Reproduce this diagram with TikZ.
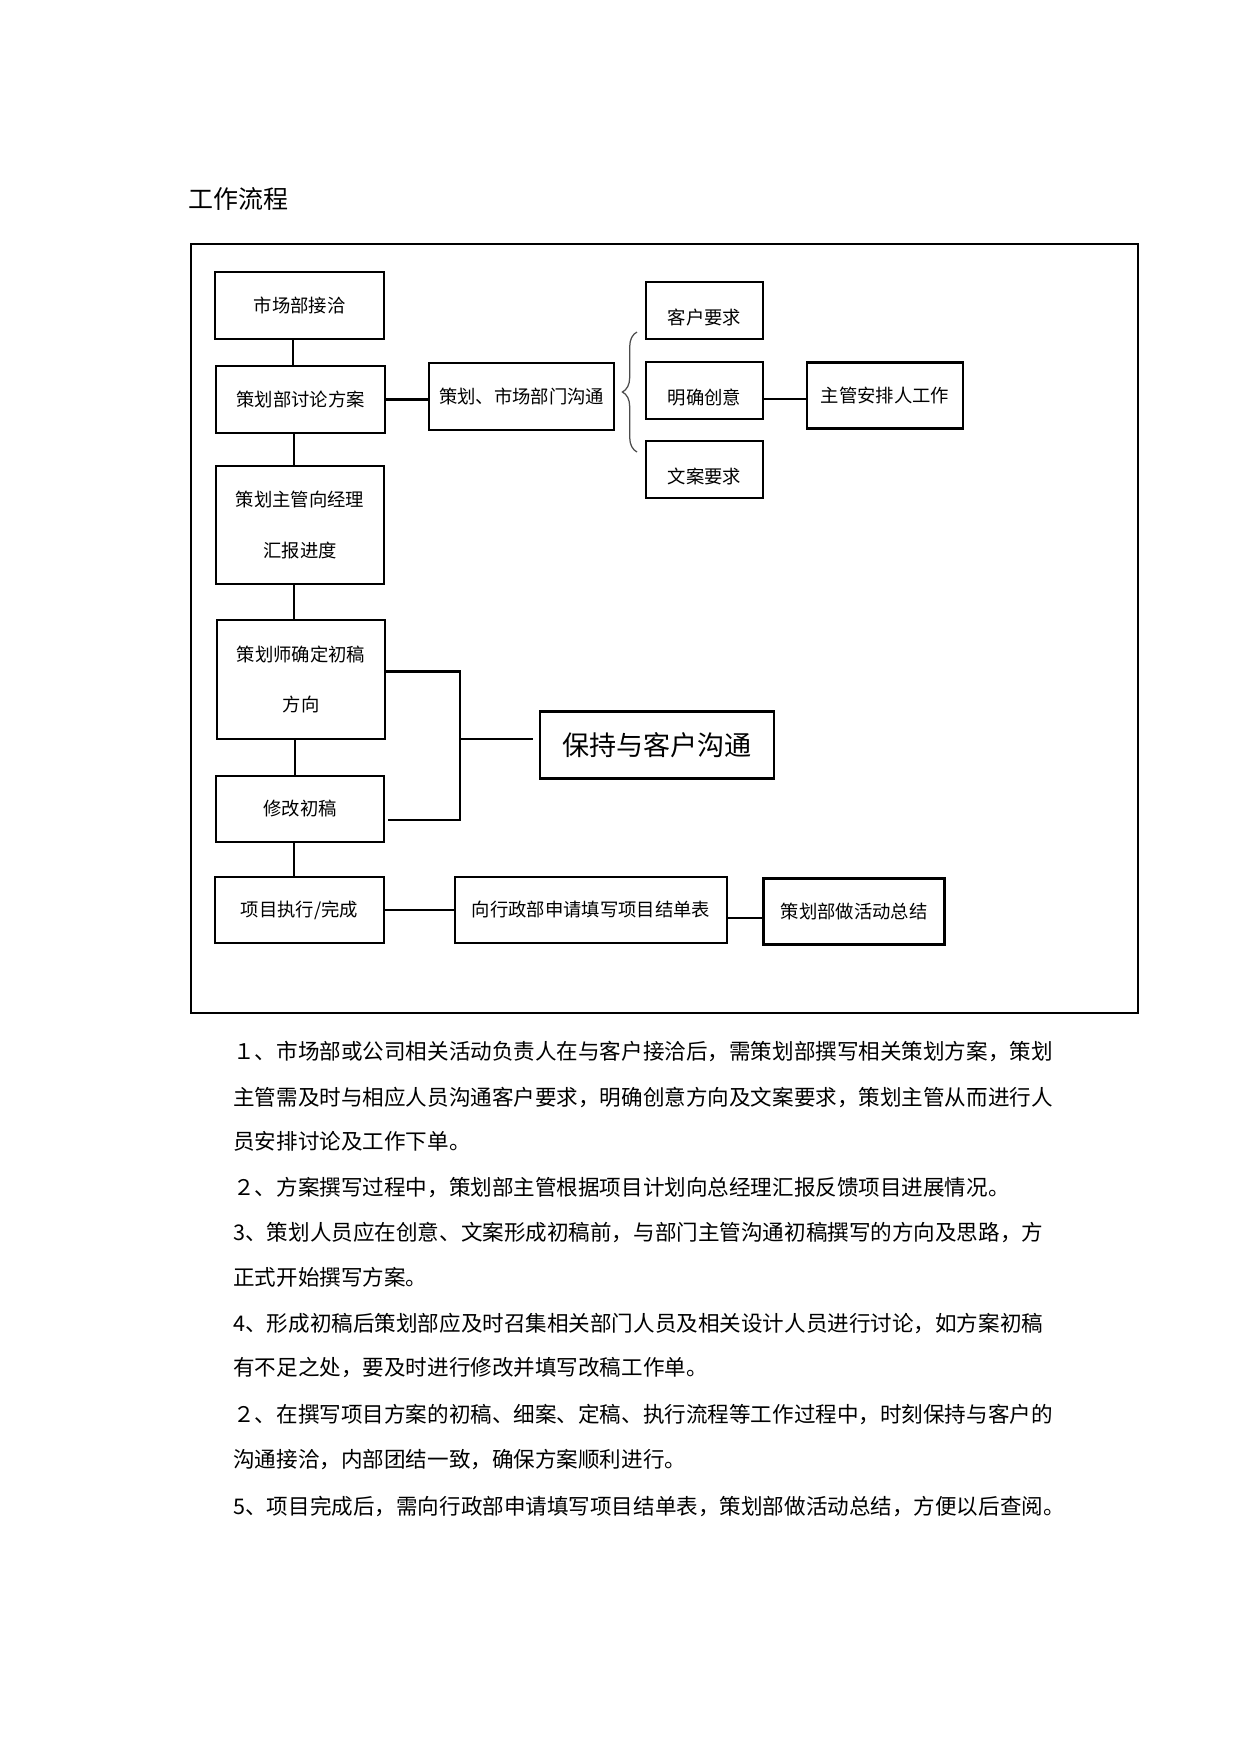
\documentclass[tikz,border=0pt]{standalone}
\usepackage{fontspec}
\setmainfont{Noto Sans CJK SC}
\usetikzlibrary{positioning, calc, decorations.pathreplacing}

\newcommand{\boxfont}{\fontsize{8.8}{12}\selectfont}
\newcommand{\parafont}{\fontsize{10.35}{14}\selectfont}

\begin{document}
\begin{tikzpicture}[
    x=0.48pt, y=-0.48pt,
    box/.style={rectangle, draw, line width=1.2pt, align=center, inner sep=0pt, font=\boxfont, text=black},
    smallbox/.style={box, minimum width=56.2pt, minimum height=27.4pt, text height=14pt, text depth=1pt},
    link/.style={line width=1.1pt},
    para/.style={anchor=west, inner sep=0pt, font=\parafont},
    curly/.style={decorate, decoration={brace, amplitude=7pt, aspect=0.5}, line width=0.6pt, color=black!70}
]
\useasboundingbox (0,0) rectangle (1241,1754);

\node[anchor=west, inner sep=0pt, font=\fontsize{12}{14}\selectfont] (title) at (188,199) {工作流程};
\draw[line width=0.9pt] (191,244) rectangle (1138,1013);

% left column
\node[box, minimum width=81pt, minimum height=32pt] (market) at (299.5,305.5) {市场部接洽};
\node[box, minimum width=81pt, minimum height=32pt] (discuss) at (300.5,399.5) {策划部讨论方案};
\node[box, minimum width=80.6pt, minimum height=56.6pt] (report) at (300,525) {策划主管向经理\\[12.5pt]汇报进度};
\node[box, minimum width=80.6pt, minimum height=57.1pt] (confirm) at (301,679.5) {策划师确定初稿\\[12pt]方向};
\node[box, minimum width=80.6pt, minimum height=31.7pt] (revise) at (300,809) {修改初稿};
\node[box, minimum width=81pt, minimum height=31.7pt] (execute) at (299.5,910) {项目执行/完成};

% upper right part
\node[box, minimum width=88.8pt, minimum height=32.2pt] (comm) at (521.5,396.5) {策划、市场部门沟通};
\node[smallbox] (client) at (704.5,310.5) {客户要求};
\node[smallbox] (idea) at (704.5,390.5) {明确创意};
\node[smallbox] (copy) at (704.5,469.5) {文案要求};
\node[box, minimum width=74.9pt, minimum height=31.7pt] (arrange) at (885,395.5) {主管安排人工作};

% lower part
\node[box, minimum width=112.3pt, minimum height=32.2pt, font=\fontsize{13}{15}\selectfont] (keep) at (657,745) {保持与客户沟通};
\node[box, minimum width=130.6pt, minimum height=31.7pt] (apply) at (591,910) {向行政部申请填写项目结单表};
\node[box, minimum width=87pt, minimum height=31.7pt] (summary) at (854,911.5) {策划部做活动总结};

% vertical chain
\draw[link] ([xshift=-3pt]market.south) -- ([xshift=-3pt]market.south |- discuss.north);
\draw[link] ([xshift=-3pt]discuss.south) -- ([xshift=-3pt]discuss.south |- report.north);
\draw[link] ([xshift=-3pt]report.south) -- ([xshift=-3pt]report.south |- confirm.north);
\draw[link] ([xshift=-3pt]confirm.south) -- ([xshift=-3pt]confirm.south |- revise.north);
\draw[link] ([xshift=-3pt]revise.south) -- ([xshift=-3pt]revise.south |- execute.north);

% horizontal links
\draw[link] (discuss.east) -- (discuss.east -| comm.west);
\draw[link] ([yshift=-1.8pt]arrange.west) -- ([yshift=-1.8pt]arrange.west -| idea.east);
\draw[link] (execute.east) -- (execute.east -| apply.west);
\draw[link] ([yshift=-4pt]apply.east) -- ([yshift=-4pt]apply.east -| summary.west);

% brace
\draw[curly] (637,452) -- (637,332);

% bracket to keep
\coordinate (bartop) at ([xshift=35.5pt,yshift=3.9pt]confirm.east);
\coordinate (keepin) at ([xshift=-3pt,yshift=2.9pt]keep.west);
\draw[link] ([yshift=3.9pt]confirm.east) -- (bartop) |- ([xshift=1.5pt,yshift=-5.3pt]revise.east);
\draw[link] (bartop |- keepin) -- (keepin);

% notes
\node[para] (p1) at (233,1051) {１、市场部或公司相关活动负责人在与客户接洽后，需策划部撰写相关策划方案，策划};
\node[para] (p2) at (233,1097) {主管需及时与相应人员沟通客户要求，明确创意方向及文案要求，策划主管从而进行人};
\node[para] (p3) at (233,1141) {员安排讨论及工作下单。};
\node[para] (p4) at (233,1188) {２、方案撰写过程中，策划部主管根据项目计划向总经理汇报反馈项目进展情况。};
\node[para] (p5) at (233,1232) {3、策划人员应在创意、文案形成初稿前，与部门主管沟通初稿撰写的方向及思路，方};
\node[para] (p6) at (233,1277) {正式开始撰写方案。};
\node[para] (p7) at (233,1323) {4、形成初稿后策划部应及时召集相关部门人员及相关设计人员进行讨论，如方案初稿};
\node[para] (p8) at (233,1368) {有不足之处，要及时进行修改并填写改稿工作单。};
\node[para] (p9) at (233,1414) {２、在撰写项目方案的初稿、细案、定稿、执行流程等工作过程中，时刻保持与客户的};
\node[para] (p10) at (233,1460) {沟通接洽，内部团结一致，确保方案顺利进行。};
\node[para] (p11) at (233,1506) {5、项目完成后，需向行政部申请填写项目结单表，策划部做活动总结，方便以后查阅。};
\end{tikzpicture}
\end{document}
